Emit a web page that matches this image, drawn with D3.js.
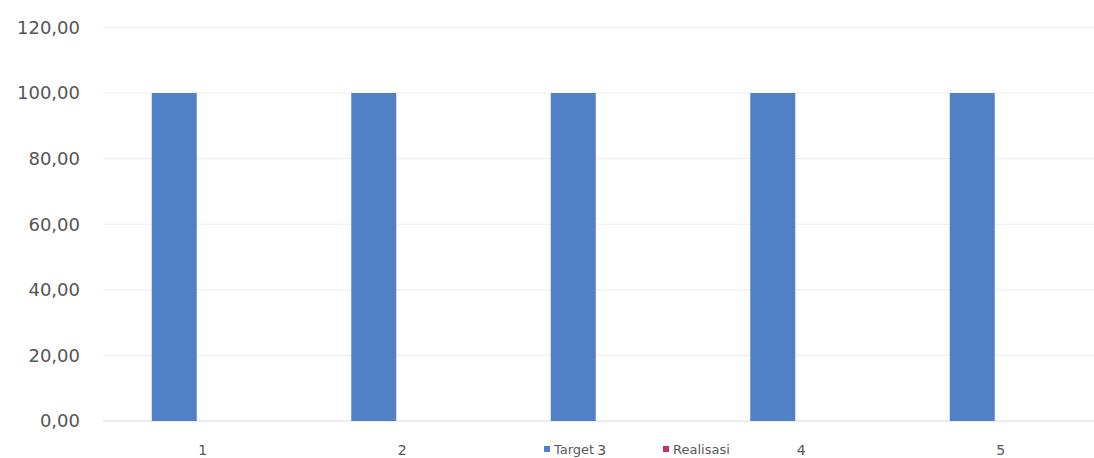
<!DOCTYPE html>
<html><head><meta charset="utf-8">
<script src="https://cdn.jsdelivr.net/npm/d3@7"></script>
<style>body{margin:0;background:#fff;}svg{display:block;font-family:"DejaVu Sans",Verdana,sans-serif;}</style>
</head><body><svg id="c" width="1094" height="458"></svg>
<script>
const categories = ["1","2","3","4","5"];
const target = [100,100,100,100,100];
const realisasi = [0,0,0,0,0];
const yTicks = [0,20,40,60,80,100,120];
const seriesNames = ["Target","Realisasi"];
const colors = ["#5081c6","#c0335a"];

(function(){
const svg = d3.select("#c");
const mLeft = 97, mRight = 1094, mTop = 27.4, mBottom = 421;
const x = d3.scaleBand().domain(categories).range([mLeft, mLeft + 5*199.5]).paddingInner(0).paddingOuter(0);
const xs = d3.scaleBand().domain(seriesNames).range([0, 90]);
const y = d3.scaleLinear().domain([0,120]).range([mBottom, mTop]);

svg.append("g").selectAll("line").data(yTicks).join("line")
  .attr("x1", 103).attr("x2", mRight).attr("y1", d=>y(d)).attr("y2", d=>y(d))
  .attr("stroke", d=> d===0 ? "#d9d9d9" : "#ececec").attr("stroke-width", 1);

svg.append("g").selectAll("text").data(yTicks).join("text")
  .attr("x", 80).attr("y", d=>y(d)).attr("dy","0.36em").attr("text-anchor","end")
  .attr("font-size", 18).attr("fill","#555555")
  .text(d => d3.format(".2f")(d).replace(".", ","));

const data = categories.map((c,i)=>({c, vals:[target[i], realisasi[i]]}));
const g = svg.append("g").selectAll("g").data(data).join("g")
  .attr("transform", d => `translate(${x(d.c) + x.bandwidth()/2 - 45},0)`);
g.selectAll("rect").data(d => d.vals.map((v,j)=>({v, s:seriesNames[j], j}))).join("rect")
  .attr("x", d => xs(d.s)).attr("width", xs.bandwidth())
  .attr("y", d => y(d.v)).attr("height", d => y(0) - y(d.v))
  .attr("fill", d => colors[d.j]);

svg.append("g").selectAll("text").data(categories).join("text")
  .attr("x", d => x(d) + x.bandwidth()/2 + 6).attr("y", 455)
  .attr("text-anchor","middle").attr("font-size", 14).attr("fill","#555555").text(d=>d);

const legX = [544, 663];
const lg = svg.append("g").selectAll("g").data(seriesNames).join("g")
  .attr("transform", (d,i)=>`translate(${legX[i]},449)`);
lg.append("rect").attr("x",0).attr("y",-3).attr("width",6).attr("height",6).attr("fill",(d,i)=>colors[i]);
lg.append("text").attr("x",10).attr("y",0).attr("dy","0.35em").attr("font-size",13).attr("fill","#595959").text(d=>d);
})();
</script></body></html>
